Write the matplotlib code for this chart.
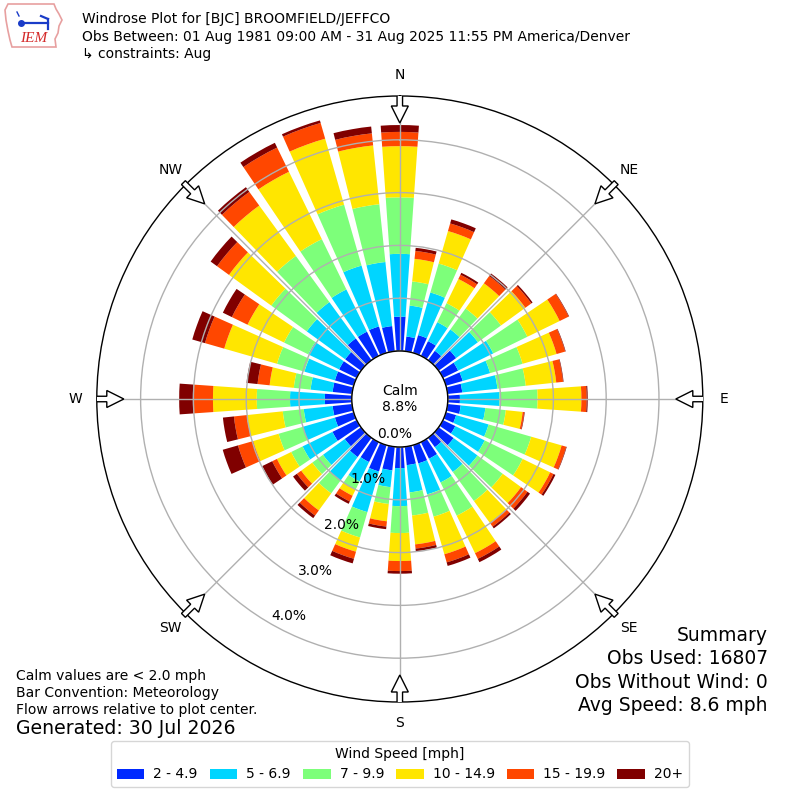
import numpy as np
import matplotlib
matplotlib.use("Agg")
import matplotlib.pyplot as plt
from matplotlib.patches import FancyArrow, Circle, Polygon, Patch

# ---------------- data (percent of observations) ----------------
directions = np.arange(0, 360, 10)  # degrees, wind coming from
speed_bins = ["2 - 4.9", "5 - 6.9", "7 - 9.9", "10 - 14.9", "15 - 19.9", "20+"]

freq_2_5 = [0.65, 0.28, 0.35, 0.31, 0.22, 0.41, 0.32, 0.33, 0.28, 0.23, 0.25, 0.20,
            0.26, 0.35, 0.22, 0.35, 0.36, 0.35, 0.40, 0.45, 0.52, 0.42, 0.45, 0.38,
            0.51, 0.37, 0.37, 0.51, 0.37, 0.37, 0.37, 0.37, 0.51, 0.51, 0.52, 0.48]
freq_5_7 = [1.19, 0.59, 0.84, 0.40, 0.50, 0.51, 0.74, 0.54, 0.67, 0.75, 0.47, 0.64,
            0.62, 0.56, 0.58, 0.50, 0.61, 0.52, 0.72, 0.32, 0.80, 0.41, 0.55, 0.51,
            0.63, 0.63, 0.55, 0.66, 0.42, 0.60, 0.65, 0.90, 0.85, 0.89, 1.20, 1.22]
freq_7_10 = [1.07, 0.46, 0.57, 0.40, 0.49, 0.54, 0.72, 0.64, 0.54, 0.72, 0.39, 0.84,
             0.80, 0.59, 0.68, 0.70, 0.44, 0.44, 0.51, 0.32, 0.50, 0.17, 0.30, 0.25,
             0.24, 0.48, 0.40, 0.63, 0.32, 0.54, 0.51, 0.83, 1.08, 1.06, 1.20, 1.10]
freq_10_15 = [0.97, 0.43, 0.64, 0.51, 0.59, 0.57, 0.68, 0.67, 0.58, 0.83, 0.32, 0.60,
              0.58, 0.43, 0.51, 0.79, 0.74, 0.55, 0.53, 0.33, 0.28, 0.13, 0.40, 0.26,
              0.30, 0.50, 0.68, 0.83, 0.46, 1.04, 0.77, 0.99, 1.18, 1.42, 1.30, 1.12]
freq_15_20 = [0.27, 0.15, 0.15, 0.09, 0.17, 0.14, 0.19, 0.17, 0.13, 0.10, 0.03, 0.09,
              0.07, 0.15, 0.09, 0.12, 0.16, 0.08, 0.19, 0.10, 0.14, 0.12, 0.12, 0.10,
              0.10, 0.30, 0.25, 0.38, 0.23, 0.38, 0.33, 0.28, 0.32, 0.51, 0.31, 0.23]
freq_20p = [0.13, 0.06, 0.08, 0.04, 0.06, 0.03, 0.01, 0.01, 0.01, 0.02, 0.01, 0.01,
            0.04, 0.06, 0.04, 0.07, 0.07, 0.05, 0.05, 0.05, 0.09, 0.05, 0.06, 0.09,
            0.21, 0.30, 0.21, 0.26, 0.21, 0.25, 0.19, 0.15, 0.11, 0.10, 0.05, 0.13]
series = [freq_2_5, freq_5_7, freq_7_10, freq_10_15, freq_15_20, freq_20p]

calm_pct = "8.8%"
rticks = [0, 1, 2, 3, 4]
compass_angles = [0, 45, 90, 135, 180, 225, 270, 315]
compass_labels = ["N", "NE", "E", "SE", "S", "SW", "W", "NW"]

title_lines = ["Windrose Plot for [BJC] BROOMFIELD/JEFFCO",
               "Obs Between: 01 Aug 1981 09:00 AM - 31 Aug 2025 11:55 PM America/Denver",
               "\u21b3 constraints: Aug"]
left_notes = ["Calm values are < 2.0 mph", "Bar Convention: Meteorology",
              "Flow arrows relative to plot center."]
generated = "Generated: 30 Jul 2026"
summary_lines = ["Summary", "Obs Used: 16807", "Obs Without Wind: 0", "Avg Speed: 8.6 mph"]

# ---------------- figure ----------------
plt.rcParams["font.family"] = ["DejaVu Sans"]
fig = plt.figure(figsize=(8, 8), dpi=100)
rect = [0.121, 0.1225, 0.7575, 0.7575]
ax = fig.add_axes(rect, projection="polar")
ax.set_theta_zero_location("N")
ax.set_theta_direction(-1)
rmax = 4.83
rorig = -0.909
ax.set_rorigin(rorig)
ax.set_ylim(0, rmax)

colors = plt.get_cmap("jet")(np.arange(1, 7) / 6.0)
theta = np.deg2rad(directions)
width = np.deg2rad(8.0)
bottom = np.zeros(len(directions))
for vals, col, lab in zip(series, colors, speed_bins):
    vals = np.asarray(vals)
    ax.bar(theta, vals, width=width, bottom=bottom, color=col, linewidth=0,
           label=lab, zorder=1)
    bottom = bottom + vals

ax.set_axisbelow(False)
ax.set_rticks(rticks)
ax.set_yticklabels([])
ax.set_thetagrids(compass_angles, labels=[""] * len(compass_angles))
ax.grid(True, color="#b0b0b0", linewidth=1.0)
ax.spines["polar"].set_color("black")
ax.spines["polar"].set_linewidth(1.0)

# ---------------- overlay (pixel-like units) ----------------
R = 303.0
ov = fig.add_axes(rect, zorder=5)
ov.set_xlim(-R, R)
ov.set_ylim(-R, R)
ov.set_aspect("equal")
ov.axis("off")
ov.patch.set_alpha(0)

pix_per_unit = R / (rmax - rorig)
calm_r = -rorig * pix_per_unit
ov.add_patch(Circle((0, 0), calm_r, facecolor="white", edgecolor="black", lw=1.0, zorder=3))
ov.text(0, 0, "Calm\n" + calm_pct, ha="center", va="center", fontsize=10, zorder=4,
        linespacing=1.2)

# r tick labels along the 210 degree direction
lab_ang = np.deg2rad(210)
for v in rticks:
    rp = (v - rorig) * pix_per_unit
    ov.text(rp * np.sin(lab_ang) + 1, rp * np.cos(lab_ang) + 7, f"{v:.1f}%",
            ha="left", va="center", fontsize=10, zorder=6)

for ang, lab in zip(compass_angles, compass_labels):
    ux, uy = np.sin(np.deg2rad(ang)), np.cos(np.deg2rad(ang))
    r0, r1 = 306.0, 276.0
    ov.add_patch(FancyArrow(r0 * ux, r0 * uy, (r1 - r0) * ux, (r1 - r0) * uy,
                            width=5.5, head_width=17, head_length=17,
                            length_includes_head=True, facecolor="white",
                            edgecolor="black", lw=1.0, zorder=4))
    ov.text(324 * ux, 324 * uy, lab, ha="center", va="center", fontsize=10)

# ---------------- titles & notes ----------------
for i, line in enumerate(title_lines):
    fig.text(0.1025, 1 - (19 + 17.5 * i) / 800, line, ha="left", va="center", fontsize=10)

for i, line in enumerate(left_notes):
    fig.text(0.02, 1 - (676 + 17.2 * i) / 800, line, ha="left", va="center", fontsize=10)
fig.text(0.02, 1 - 728.5 / 800, generated, ha="left", va="center", fontsize=13.6)

for i, line in enumerate(summary_lines):
    fig.text(0.96, 1 - (635.5 + 23.4 * i) / 800, line, ha="right", va="center", fontsize=13.5)

# ---------------- legend ----------------
handles = [Patch(facecolor=c, edgecolor="none") for c in colors]
fig.legend(handles, speed_bins, loc="upper center", bbox_to_anchor=(0.5, 1 - 741 / 800),
           borderaxespad=0.0, ncol=6, fontsize=10, title="Wind Speed [mph]",
           title_fontsize=10, frameon=True, borderpad=0.4, columnspacing=0.85,
           handletextpad=0.65)

# ---------------- IEM logo ----------------
lg = fig.add_axes([0, 1 - 52 / 800, 66 / 800, 52 / 800])
lg.set_xlim(0, 66)
lg.set_ylim(52, 0)
lg.axis("off")
outline = [(8, 4), (54, 4), (56, 9), (59, 14), (62, 20), (59, 26), (58, 33), (55, 39),
           (56, 47), (12, 47), (10, 40), (8, 31), (6, 20), (5, 10)]
lg.add_patch(Polygon(outline, closed=True, facecolor="none", edgecolor="#e7a0a0", lw=1.2))
lg.plot([20, 48], [23, 23], color="#1a3cc8", lw=1.6)
lg.plot([21], [23], "o", color="#1a3cc8", ms=4)
lg.plot([41, 48], [16, 19], color="#1a3cc8", lw=1.6)
lg.plot([48, 48], [19, 29], color="#1a3cc8", lw=1.6)
lg.plot([17, 19], [12, 16], color="#1a3cc8", lw=1.0)
lg.text(34, 38, "IEM", ha="center", va="center", fontsize=11, color="#d42a2a",
        family="Liberation Serif", style="italic")

fig.savefig("out.png", dpi=100)
